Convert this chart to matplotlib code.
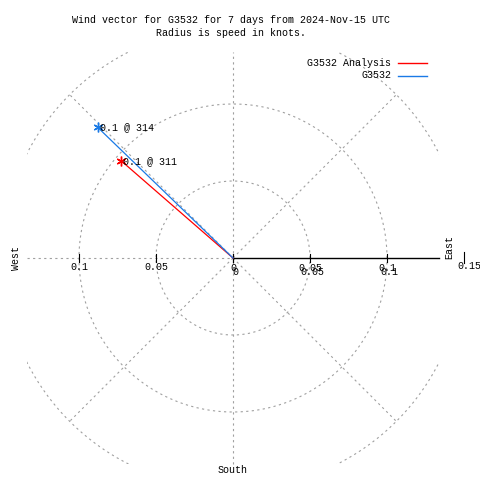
import numpy as np
import matplotlib
matplotlib.use("Agg")
import matplotlib.pyplot as plt
from matplotlib.patches import Rectangle

# wind vectors: speed (knots) and direction (deg, compass)
series_names = ["G3532 Analysis", "G3532"]
series_colors = ["#ff0000", "#1a7ae6"]
speeds = [0.096, 0.122]
directions = [311, 314]

ring_radii = [0.05, 0.1, 0.15]
tick_vals = [0, 0.05, 0.1]
tick_labels = ["0", "0.05", "0.1"]

title_lines = ["Wind vector for G3532 for 7 days from 2024-Nov-15 UTC",
               "Radius is speed in knots."]

PX = 1540.0          # pixels per knot
cx, cy = 233, 258    # centre in pixels
lim = 206 / PX       # clip square half width

def d(px, py):
    return (px - cx) / PX, (cy - py) / PX

plt.rcParams['font.family'] = ['Liberation Mono', 'DejaVu Sans Mono']
fig = plt.figure(figsize=(4.8, 4.8), dpi=100)
ax = fig.add_axes([0, 0, 1, 1])
ax.set_xlim(-cx / PX, (480 - cx) / PX)
ax.set_ylim(-(480 - cy) / PX, cy / PX)
ax.axis("off")

clip = Rectangle((-lim, -lim), 2 * lim, 2 * lim, transform=ax.transData)
grid_kw = dict(color="#a0a0a0", lw=0.8, linestyle=(0, (2, 3)))

th = np.linspace(0, 2 * np.pi, 400)
for r in ring_radii:
    ln, = ax.plot(r * np.cos(th), r * np.sin(th), **grid_kw)
    ln.set_clip_path(clip)

# radial grid lines
rmax = ring_radii[-1]
for a in [45, 135, 225, 315]:
    t = np.radians(a)
    ax.plot([0, rmax * np.cos(t)], [0, rmax * np.sin(t)], **grid_kw)
ax.plot([0, 0], [-lim, lim], **grid_kw)
ax.plot([-lim, 0], [0, 0], **grid_kw)

# east axis
ax.plot([0, lim], [0, 0], color="black", lw=1)
tk = 4 / PX
for v in tick_vals:
    ax.plot([v, v], [-tk, tk], color="black", lw=0.8)
    ax.plot([-v, -v], [-tk, tk], color="black", lw=0.8)
ax.plot([0.15, 0.15], [-tk * 1.2, tk * 1.6], color="black", lw=0.8)

fs = 7.2
for v, lab in zip(tick_vals, tick_labels):
    ax.text(v, d(0, 268)[1], lab, ha="center", va="center", fontsize=fs)
    ax.text(v + 2 / PX, d(0, 272)[1], lab, ha="center", va="center", fontsize=fs)
    if v > 0:
        ax.text(-v, d(0, 267)[1], lab, ha="center", va="center", fontsize=fs)
ax.text(*d(469, 266), "0.15", ha="center", va="center", fontsize=fs)

ax.text(*d(449, 247), "East", rotation=90, ha="center", va="center", fontsize=fs)
ax.text(*d(16, 258), "West", rotation=90, ha="center", va="center", fontsize=fs)
ax.text(*d(233, 470), "South", ha="center", va="center", fontsize=fs)

for i, line in enumerate(title_lines):
    fig.text(231 / 480, 1 - (20 + 13 * i) / 480, line, ha="center", va="center",
             fontsize=fs)

# vectors
for name, col, s, dd in zip(series_names, series_colors, speeds, directions):
    t = np.radians(dd)
    x, y = s * np.sin(t), s * np.cos(t)
    ax.plot([0, x], [0, y], color=col, lw=0.9)
    ax.plot([x], [y], marker=(6, 2, 0), color=col, ms=7, mew=1)
    ax.text(x + 2 / PX, y, "%.1f @ %d" % (s, dd), ha="left", va="center", fontsize=fs)

# legend
for i, (name, col) in enumerate(zip(series_names, series_colors)):
    ly = 63 + 12.5 * i
    ax.text(*d(391, ly), name, ha="right", va="center", fontsize=fs)
    ax.plot([d(398, 0)[0], d(427, 0)[0]], [d(0, ly)[1]] * 2, color=col, lw=1)

fig.savefig("out.png", dpi=100)
